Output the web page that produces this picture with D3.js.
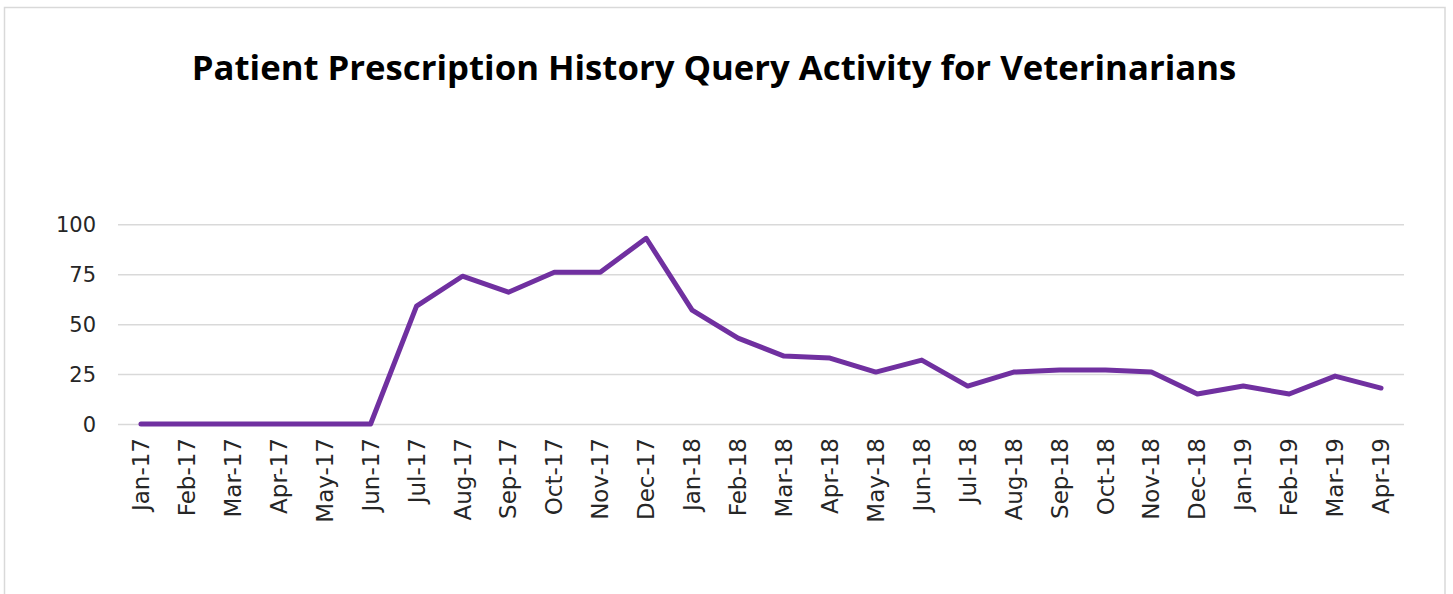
<!DOCTYPE html>
<html>
<head>
<meta charset="utf-8">
<script src="https://cdn.jsdelivr.net/npm/d3@7"></script>
<style>
  html, body { margin: 0; padding: 0; background: #fff; overflow: hidden; }
  text { font-family: "DejaVu Sans", "Open Sans", sans-serif; }
</style>
</head>
<body>
<svg id="chart" width="1453" height="594"></svg>
<script>
const title = "Patient Prescription History Query Activity for Veterinarians";
const months = ["Jan-17","Feb-17","Mar-17","Apr-17","May-17","Jun-17","Jul-17","Aug-17","Sep-17","Oct-17","Nov-17","Dec-17",
  "Jan-18","Feb-18","Mar-18","Apr-18","May-18","Jun-18","Jul-18","Aug-18","Sep-18","Oct-18","Nov-18","Dec-18",
  "Jan-19","Feb-19","Mar-19","Apr-19"];
const queries = [0,0,0,0,0,0,59,74,66,76,76,93,57,43,34,33,26,32,19,26,27,27,26,15,19,15,24,18];
const yTicks = [0,25,50,75,100];

const svg = d3.select("#chart");

// outer frame
svg.append("rect").attr("x", 4.5).attr("y", 7.5).attr("width", 1440.5).attr("height", 700)
  .attr("fill", "none").attr("stroke", "#d9d9d9").attr("stroke-width", 1.5);

const x = d3.scaleBand().domain(months).range([118, 1404]);
const y = d3.scaleLinear().domain([0, 100]).range([424, 224.3]);

// title
const t = svg.append("text").attr("x", 714).attr("y", 80).attr("text-anchor", "middle")
  .attr("font-weight", "bold").attr("fill", "#000").attr("font-size", 32)
  .style("font-family", "'Open Sans', sans-serif").text(title);
const w = t.node().getComputedTextLength();
t.attr("font-size", 32 * 1045 / w);

// gridlines + y labels
const yAxis = d3.axisLeft(y).tickValues(yTicks).tickSize(-(1404 - 118)).tickPadding(22);
const gy = svg.append("g").attr("transform", "translate(118,0)").call(yAxis);
gy.select(".domain").remove();
gy.selectAll(".tick line").attr("stroke", "#d9d9d9").attr("stroke-width", 1.5);
gy.selectAll(".tick text").attr("font-size", 21).attr("fill", "#262626").attr("dy", "0.35em")
  .style("font-family", "'DejaVu Sans', sans-serif");

// x axis labels
const xAxis = d3.axisBottom(x).tickSize(0).tickPadding(0);
const gx = svg.append("g").attr("transform", "translate(0,424)").call(xAxis);
gx.select(".domain").remove();
gx.selectAll(".tick text")
  .attr("font-size", 23).attr("fill", "#262626")
  .style("font-family", "'DejaVu Sans', sans-serif")
  .attr("text-anchor", "end")
  .attr("transform", "translate(0,14) rotate(-90)")
  .attr("x", 0).attr("y", 0).attr("dy", "0.35em");

// line
const line = d3.line().x((d, i) => x(months[i]) + x.bandwidth() / 2).y(d => y(d));
svg.append("path").datum(queries).attr("d", line)
  .attr("fill", "none").attr("stroke", "#7030A0").attr("stroke-width", 5)
  .attr("stroke-linejoin", "round").attr("stroke-linecap", "round");
</script>
</body>
</html>
